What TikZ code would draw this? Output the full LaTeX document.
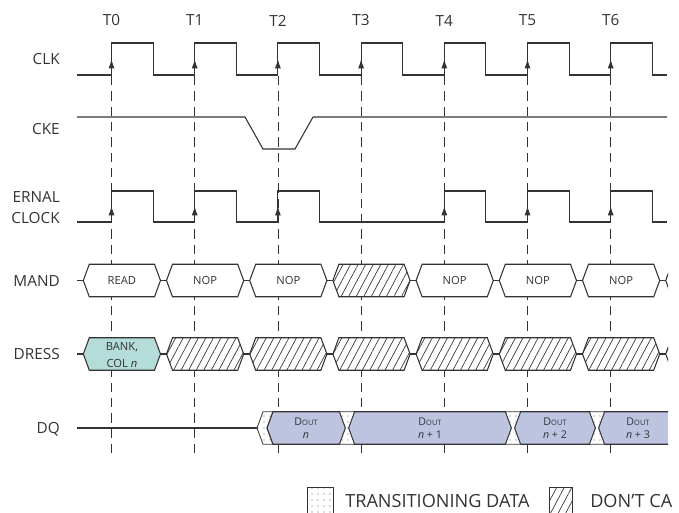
\documentclass[tikz,border=0pt]{standalone}
\usepackage{fontspec}
\setmainfont{Open Sans}
\usepackage{tikz}
\usetikzlibrary{arrows.meta,patterns.meta}
\definecolor{ink}{HTML}{333333}
\definecolor{bankteal}{HTML}{B4DCD8}
\definecolor{doutblue}{HTML}{BCC4E0}

% one bus cell: left point, right point, middle y, style
\newcommand{\busCell}[4]{%
  \path[#4] (#1,#3) -- ({#1+6},{#3-16.25}) -- ({#2-6},{#3-16.25}) -- (#2,#3)
    -- ({#2-6},{#3+16.25}) -- ({#1+6},{#3+16.25}) -- cycle;}

\begin{document}
\begin{tikzpicture}[x=0.75pt, y=-0.75pt,
  wave/.style={draw=ink, line width=0.8pt},
  edgearrow/.style={draw=ink, line width=0.8pt, -{Latex[length=7pt,width=4.5pt]}},
  tick/.style={draw=ink, line width=0.6pt, dash pattern=on 7pt off 4.5pt},
  plaincell/.style={wave, fill=white},
  bankcell/.style={wave, fill=bankteal},
  doutcell/.style={wave, fill=doutblue},
  dontcare/.style={wave, preaction={fill=white}, pattern={Lines[angle=62,distance=5pt,line width=0.5pt]}, pattern color=ink},
  trans/.style={draw=ink, line width=0.6pt, preaction={fill=white}, pattern={Dots[distance=4.5pt,radius=0.4pt]}, pattern color=black!60},
  sigtxt/.style={anchor=east, align=right, inner sep=0pt, text=ink, font=\fontsize{11.5}{15.75}\selectfont},
  ttxt/.style={text=ink, font=\fontsize{11.5}{13}\selectfont},
  celltxt/.style={text=ink, align=center, font=\fontsize{8.4}{12.75}\selectfont},
  douttxt/.style={text=ink, align=center, font=\fontsize{8}{10}\selectfont},
  legtxt/.style={anchor=west, inner sep=0pt, text=ink, font=\fontsize{13.6}{15}\selectfont}
]
\useasboundingbox (0,0) rectangle (679,512);
\clip (0,0) rectangle (679,512);

% signal names
\node[sigtxt] (lclk) at (60,59) {CLK};
\node[sigtxt] (lcke) at (60,129) {CKE};
\node[sigtxt] (lint) at (60,207.5) {ERNAL\\CLOCK};
\node[sigtxt] (lcmd) at (60,280.5) {MAND};
\node[sigtxt] (ladr) at (60,354) {DRESS};
\node[sigtxt] (ldq) at (60,429) {DQ};

\begin{scope}
\clip (0,0) rectangle (668,470);

% clock edges
\foreach \i in {0,...,6} {
  \node[ttxt] (t\i) at ({111.5+83.2*\i},20.5) {T\i};
  \draw[tick] ({111.5+83.2*\i},76) -- ++(0,379);
}

% CLK
\draw[wave] (77,75) foreach \i in {0,...,6} { -| ({111.5+83.2*\i},43) -| ({153.1+83.2*\i},75) } -- (667,75);
\foreach \i in {0,...,6}
  \draw[edgearrow] ({111.5+83.2*\i},75) -- ++(0,-16);

% CKE
\draw[wave] (77,117) -- (245,117) -- (263,149) -- (295,149) -- (313,117) -- (667,117);

% internal clock
\draw[wave] (77,222) foreach \i in {0,1,2,4,5,6} { -| ({111.5+83.2*\i},191) -| ({153.1+83.2*\i},222) } -- (667,222);
\foreach \i in {0,1,2,4,5,6}
  \draw[edgearrow] ({111.5+83.2*\i},222) -- ++(0,-16);

% COMMAND and ADDRESS
\draw[wave] (77,280.5) -- (83.3,280.5);
\draw[wave] (77,354) -- (83.3,354);
\foreach \k/\cmdsty/\adrsty in {0/plaincell/bankcell,1/plaincell/dontcare,2/plaincell/dontcare,
    3/dontcare/dontcare,4/plaincell/dontcare,5/plaincell/dontcare,6/plaincell/dontcare,7/plaincell/dontcare} {
  \pgfmathsetmacro\xl{83.3+83.2*\k}
  \pgfmathsetmacro\xr{160.5+83.2*\k}
  \busCell{\xl}{\xr}{280.5}{\cmdsty}
  \busCell{\xl}{\xr}{354}{\adrsty}
  \draw[wave] (\xr,280.5) -- ({\xr+6},280.5);
  \draw[wave] (\xr,354) -- ({\xr+6},354);
}
\foreach \k/\lbl in {0/READ,1/NOP,2/NOP,4/NOP,5/NOP,6/NOP}
  \node[celltxt] (cmd\k) at ({121.9+83.2*\k},280.5) {\lbl};
\node[celltxt] (adr0) at (121.9,355.5) {BANK,\\COL \textit{n}};

% DQ
\draw[wave] (77,428) -- (257,428);
\path[trans] (257,428) -- (263,411.75) -- (273,411.75) -- (267,428) -- (273,444.25) -- (263,444.25) -- cycle;
\busCell{267}{345.5}{428}{doutcell}
\busCell{348.5}{511.5}{428}{doutcell}
\busCell{514.5}{595.5}{428}{doutcell}
\busCell{598.5}{760}{428}{doutcell}
\foreach \c in {347,513,597}
  \path[trans] ({\c-7.5},411.75) -- ({\c+7.5},411.75) -- ({\c+1.5},428) -- ({\c+7.5},444.25)
    -- ({\c-7.5},444.25) -- ({\c-1.5},428) -- cycle;
\node[douttxt] (dq0) at (306,428) {D{\fontsize{5.6}{6}\selectfont OUT}\\\textit{n}};
\node[douttxt] (dq1) at (430,428) {D{\fontsize{5.6}{6}\selectfont OUT}\\\textit{n} + 1};
\node[douttxt] (dq2) at (555,428) {D{\fontsize{5.6}{6}\selectfont OUT}\\\textit{n} + 2};
\node[douttxt] (dq3) at (638,428) {D{\fontsize{5.6}{6}\selectfont OUT}\\\textit{n} + 3};
\end{scope}

% legend
\path[trans] (307,487) rectangle (333,513);
\node[legtxt] (legtr) at (345,501.5) {TRANSITIONING DATA};
\path[dontcare, line width=0.6pt] (549,487) rectangle (572,513);
\node[legtxt] (legdc) at (590,501.5) {DON'T CA};
\end{tikzpicture}
\end{document}
